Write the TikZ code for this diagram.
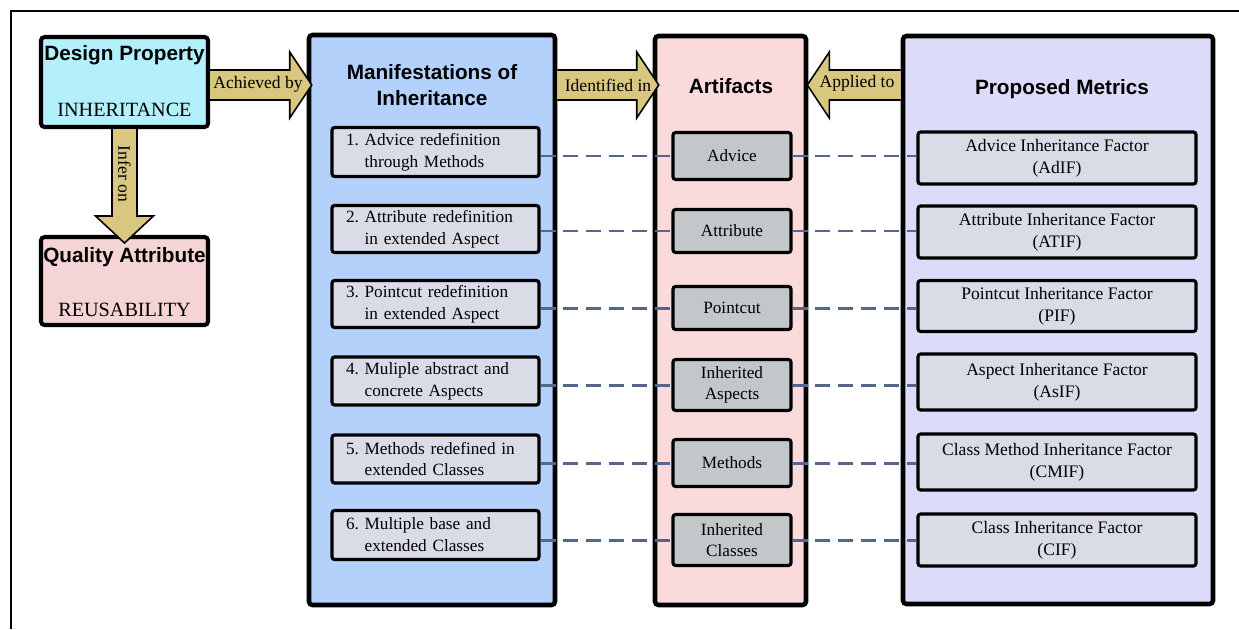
\documentclass[tikz,border=0pt]{standalone}
\usepackage{fontspec}
\setmainfont{Liberation Serif}
\setsansfont{Liberation Sans}
\usetikzlibrary{calc}
\frenchspacing
\definecolor{dpfill}{HTML}{B3F0FB}
\definecolor{qafill}{HTML}{F4D4D4}
\definecolor{manfill}{HTML}{B3D1FB}
\definecolor{artfill}{HTML}{FADADA}
\definecolor{metfill}{HTML}{DCDCFA}
\definecolor{itemfill}{HTML}{D9DCE6}
\definecolor{artitem}{HTML}{C4C7CA}
\definecolor{arrowfill}{HTML}{D9C77F}
\definecolor{dashcol}{HTML}{56658C}
\tikzset{
  pxbox/.style 2 args={rectangle, minimum width=#1*0.02cm, minimum height=#2*0.02cm, inner sep=0pt},
  container/.style={draw=black, line width=2.6pt, rounded corners=2pt},
  propbox/.style={draw=black, line width=2.3pt, rounded corners=2pt},
  mitem/.style={draw=black, line width=1.8pt, rounded corners=1.5pt, fill=itemfill,
    text width=179*0.02cm, inner xsep=14*0.02cm, inner ysep=0pt, minimum height=48*0.02cm,
    align=left, font=\fontsize{9.8}{12.5}\selectfont},
  aitem/.style={draw=black, line width=1.8pt, rounded corners=1.5pt, fill=artitem,
    align=center, font=\fontsize{9.8}{12}\selectfont},
  titem/.style={draw=black, line width=1.8pt, rounded corners=1.5pt, fill=itemfill,
    align=center, font=\fontsize{10}{12.5}\selectfont},
  ttl/.style={font=\sffamily\bfseries\fontsize{11.8}{14.8}\selectfont, align=center, inner sep=0pt},
  sub/.style={font=\fontsize{11.5}{13}\selectfont, inner sep=0pt},
  alabel/.style={font=\fontsize{10}{12}\selectfont, inner sep=0pt},
  fat/.style={draw=black, line width=0.9pt, fill=arrowfill, line join=miter},
  link/.style={draw=dashcol, line width=1.7pt, dash pattern=on 8.5pt off 4.5pt},
  frame/.style={draw=black, line width=1.7pt}
}
\begin{document}
\begin{tikzpicture}[x=0.02cm, y=-0.02cm]
\useasboundingbox (0,0) rectangle (1239,629);
% outer frame (top and left edges visible)
\coordinate (f1) at (11,629);
\coordinate (f2) at (11,11);
\coordinate (f3) at (1239,11);
\draw[frame] (f1) -- (f2) -- (f3);

% left boxes
\node[pxbox={167}{90}, propbox, fill=dpfill] (dp) at (124.5,82) {};
\node[ttl] (dpt) at (124.5,55) {Design Property};
\node[sub] (dps) at (124.5,110) {INHERITANCE};
\node[pxbox={167}{88}, propbox, fill=qafill] (qa) at (124.5,281) {};
\node[ttl] (qat) at (124.5,257) {Quality Attribute};
\node[sub] (qas) at (124.5,310) {REUSABILITY};

% containers
\node[pxbox={246}{570}, container, fill=manfill] (man) at (432,320) {};
\node[ttl] (mant) at (432,85) {Manifestations of\\Inheritance};
\node[pxbox={151}{569}, container, fill=artfill] (art) at (730.5,320.5) {};
\node[ttl] (artt) at (731,86) {Artifacts};
\node[pxbox={310}{568}, container, fill=metfill] (met) at (1058,320) {};
\node[ttl] (mett) at (1062,89) {Proposed Metrics};

% manifestation items
\node[mitem, minimum height=49*0.02cm] (m1) at (435.5,152) {1. Advice redefinition\\\hphantom{1.\ }through Methods};
\node[mitem, minimum height=47*0.02cm] (m2) at (435.5,229) {2. Attribute redefinition\\\hphantom{2.\ }in extended Aspect};
\node[mitem, minimum height=47*0.02cm] (m3) at (435.5,304) {3. Pointcut redefinition\\\hphantom{3.\ }in extended Aspect};
\node[mitem, minimum height=48*0.02cm] (m4) at (435.5,381) {4. Muliple abstract and\\\hphantom{4.\ }concrete Aspects};
\node[mitem, minimum height=48*0.02cm] (m5) at (435.5,459) {5. Methods redefined in\\\hphantom{5.\ }extended Classes};
\node[mitem, minimum height=49*0.02cm] (m6) at (435.5,535) {6. Multiple base and\\\hphantom{6.\ }extended Classes};

% artifact items
\node[aitem, pxbox={118}{47}] (a1) at (732,156) {Advice};
\node[aitem, pxbox={118}{43}] (a2) at (732,231) {Attribute};
\node[aitem, pxbox={118}{43}] (a3) at (732,308) {Pointcut};
\node[aitem, pxbox={118}{51}] (a4) at (732,385) {Inherited\\Aspects};
\node[aitem, pxbox={118}{47}] (a5) at (732,463) {Methods};
\node[aitem, pxbox={118}{51}] (a6) at (732,540) {Inherited\\Classes};

% metric items
\node[titem, pxbox={278}{52}] (t1) at (1057,158) {Advice Inheritance Factor\\(AdIF)};
\node[titem, pxbox={278}{52}] (t2) at (1057,232) {Attribute Inheritance Factor\\(ATIF)};
\node[titem, pxbox={278}{51}] (t3) at (1057,306) {Pointcut Inheritance Factor\\(PIF)};
\node[titem, pxbox={278}{56}] (t4) at (1057,382) {Aspect Inheritance Factor\\(AsIF)};
\node[titem, pxbox={278}{56}] (t5) at (1057,462) {Class Method Inheritance Factor\\(CMIF)};
\node[titem, pxbox={278}{52}] (t6) at (1057,540) {Class Inheritance Factor\\(CIF)};

% dashed links
\foreach \i in {1,...,6}{
  \draw[link] (m\i.east |- a\i.west) -- (a\i.west);
  \draw[link] (a\i.east) -- (t\i.west |- a\i.east);
}

% fat arrows
\coordinate (abA) at (dp.east |- 0,85);
\coordinate (abB) at ($(man.west |- 0,85)+(5,0)$);
\filldraw[fat] ($(abA)+(0,-15)$) -- ($(abB)+(-22,-15)$) -- ($(abB)+(-22,-33)$) -- (abB)
  -- ($(abB)+(-22,33)$) -- ($(abB)+(-22,15)$) -- ($(abA)+(0,15)$);
\node[alabel] (abl) at (258,84) {Achieved by};

\coordinate (idA) at (man.east |- 0,85);
\coordinate (idB) at ($(art.west |- 0,85)+(6,0)$);
\filldraw[fat] ($(idA)+(0,-15)$) -- ($(idB)+(-22,-15)$) -- ($(idB)+(-22,-33)$) -- (idB)
  -- ($(idB)+(-22,33)$) -- ($(idB)+(-22,15)$) -- ($(idA)+(0,15)$);
\node[alabel] (idl) at (608,85) {Identified in};

\coordinate (apA) at (met.west |- 0,85);
\coordinate (apB) at ($(art.east |- 0,85)+(-1,0)$);
\filldraw[fat] ($(apA)+(0,-15)$) -- ($(apB)+(22,-15)$) -- ($(apB)+(22,-33)$) -- (apB)
  -- ($(apB)+(22,33)$) -- ($(apB)+(22,15)$) -- ($(apA)+(0,15)$);
\node[alabel] (apl) at (857,83) {Applied to};

\coordinate (ioA) at (dp.south);
\coordinate (ioB) at ($(qa.north)+(0,8)$);
\filldraw[fat] ($(ioA)+(-12.5,0)$) -- ($(ioB)+(-12.5,-27)$) -- ($(ioB)+(-29,-27)$) -- (ioB)
  -- ($(ioB)+(29,-27)$) -- ($(ioB)+(12.5,-27)$) -- ($(ioA)+(12.5,0)$);
\node[alabel, rotate=-90] (iol) at (124.5,174) {Infer on};
\end{tikzpicture}
\end{document}
